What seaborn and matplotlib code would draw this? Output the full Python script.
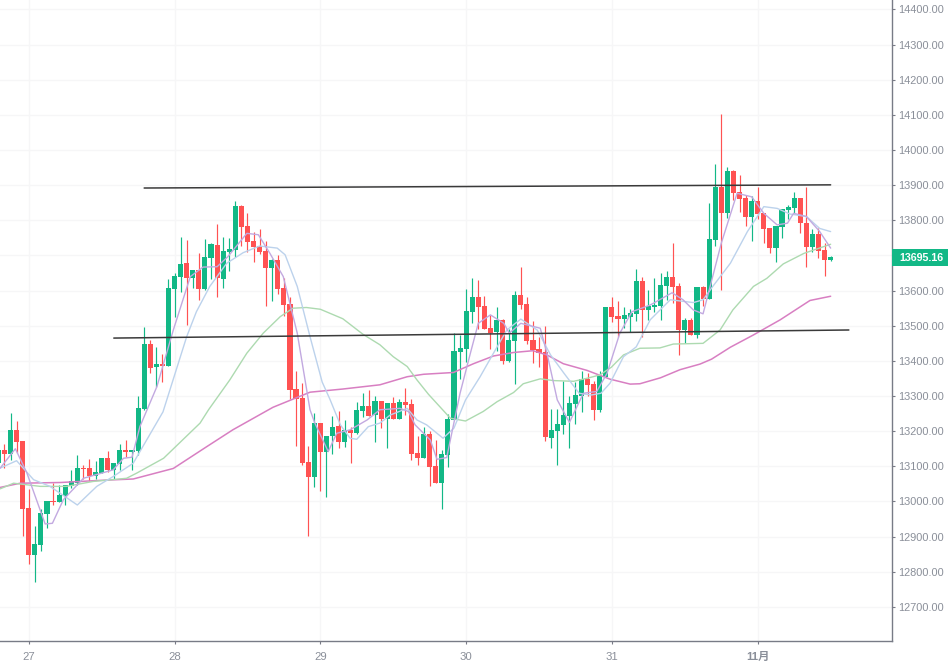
import matplotlib
matplotlib.use("Agg")
import matplotlib.pyplot as plt
from matplotlib.patches import Rectangle
from matplotlib.transforms import blended_transform_factory
import numpy as np
import pandas as pd
import seaborn as sns

opens = [13109,13147,13136,13204,13173,12982,12848,12877,12965,13002,12999,13016,13044,13053,13096,13096,13073,13081,13124,13090,13107,13147,13141,13144,
13264,13449,13383,13392,13386,13605,13639,13679,13636,13659,13605,13693,13730,13633,13710,13716,13841,13784,13741,13727,13713,13665,13687,13608,13562,13321,13295,13113,
13070,13224,13141,13187,13215,13170,13204,13195,13258,13272,13246,13286,13235,13281,13235,13283,13278,13138,13124,13192,13101,13053,13133,
13232,13426,13434,13539,13582,13557,13494,13483,13517,13400,13457,13588,13562,13460,13434,13426,13181,13201,13218,13244,13278,13300,13349,13335,13261,13355,13554,13528,13520,13525,
13534,13628,13545,13554,13557,13613,13639,13613,13488,13517,13474,13611,13576,13744,13895,13821,13941,13881,13864,13810,13855,13821,13778,13722,13781,13830,13835,13864,13793,13724,13761,13716,13687]
closes = [13147,13136,13204,13170,12979,12848,12880,12968,13002,12999,13019,13047,13059,13096,13093,13073,13084,13124,13090,13110,13147,13141,13147,13266,
13449,13380,13392,13386,13608,13642,13676,13636,13659,13605,13696,13733,13636,13713,13719,13841,13781,13739,13724,13710,13665,13687,13605,13559,13318,13292,13110,13070,
13224,13141,13187,13212,13170,13204,13195,13261,13272,13244,13286,13235,13281,13235,13283,13275,13136,13124,13192,13099,13053,13136,13235,
13429,13437,13542,13582,13554,13491,13480,13517,13400,13460,13588,13559,13457,13431,13423,13184,13204,13221,13246,13281,13303,13349,13332,13261,13357,13554,13525,13520,13531,13537,
13628,13545,13557,13559,13616,13639,13611,13488,13517,13474,13611,13576,13747,13895,13821,13941,13878,13861,13810,13855,13818,13776,13722,13784,13832,13838,13864,13793,13724,13761,13713,13687,13695.16]
highs = [13150,13164,13253,13229,13173,13036,12931,12978,13002,13052,13047,13047,13090,13133,13104,13121,13116,13124,13144,13110,13164,13175,13147,13300,
13497,13460,13440,13420,13633,13650,13753,13744,13659,13707,13747,13736,13790,13753,13750,13855,13844,13821,13767,13776,13741,13690,13702,13636,13582,13372,13337,13158,
13252,13224,13187,13244,13258,13232,13212,13283,13309,13318,13300,13286,13281,13298,13292,13323,13292,13187,13212,13201,13175,13147,13249,
13480,13474,13605,13636,13630,13585,13531,13554,13520,13491,13599,13667,13582,13514,13468,13500,13264,13264,13343,13300,13340,13372,13366,13343,13372,13554,13582,13571,13554,13548,
13662,13639,13602,13636,13650,13656,13736,13622,13522,13522,13611,13613,13849,13960,14103,13952,13943,13929,13872,13869,13895,13821,13778,13784,13832,13844,13881,13864,13895,13776,13778,13736,13699]
lows = [13105,13094,13118,13139,12902,12823,12771,12860,12925,12990,12999,12990,13039,13047,13064,13059,13064,13081,13084,13064,13090,13127,13090,13133,
13261,13366,13326,13340,13386,13525,13596,13503,13608,13574,13602,13633,13582,13608,13656,13696,13727,13710,13682,13704,13557,13571,13591,13528,13292,13158,13104,12902,
13042,13030,13013,13136,13153,13155,13110,13192,13241,13244,13170,13210,13153,13235,13235,13246,13118,13104,13124,13045,13053,12979,13099,
13232,13349,13397,13508,13491,13491,13434,13429,13392,13397,13335,13548,13448,13394,13383,13173,13153,13104,13192,13153,13221,13255,13300,13232,13255,13355,13511,13468,13494,13483,
13514,13468,13517,13540,13517,13574,13565,13417,13451,13474,13466,13557,13576,13727,13602,13807,13858,13824,13784,13741,13804,13736,13707,13682,13750,13804,13821,13764,13667,13710,13693,13642,13684]

purple_at = [-4.7,-2.2,-0.3,2.7,3.9,5.7,9,13.9,15.6,17,18.3,21.1,23.8,26.6,28.7,31,32.8,35.9,37.8,39.7,41.9,44.2,46.3,47.1,49.3,50.7,52.9,55.7,57.8,61.1,62.5,63.6,66.1,67.2,68.8,71,72.7,74,76,78.2,79.1,81,84.2,85.3,87,89,91.3,93.5,95.2,97.3,99.3,102.3,105.9,107.7,109.4,111,114,116.6,119,121,123.2,124.9,125.9,128,130.2,132]
purple = [13095,13150,13081,12936,12938,13005,13066,13090,13123,13126,13213,13327,13488,13640,13667,13668,13697,13763,13759,13706,13640,13479,13261,13223,13142,13194,13204,13232,13261,13265,13256,13218,13175,13120,13125,13308,13422,13507,13531,13507,13479,13507,13493,13422,13289,13225,13308,13313,13365,13479,13540,13559,13594,13574,13545,13534,13735,13877,13867,13820,13787,13792,13820,13811,13768,13721]

blue_at = [-4.7,-2,0.8,3.5,8,11.2,13.9,17.2,18.3,22.1,26,27.6,29.8,32.6,35.3,38,40.9,42.2,44.2,46.3,48.3,49.6,51.3,52.9,54,55.9,57.8,59.5,62.3,63.9,65.5,68.2,70,71.9,74.3,76.5,78.7,81,83.7,85.9,88.1,90.6,92.6,94.2,95.7,97.9,100,102.3,105.6,109.4,111,112.6,115.5,118.3,121,123.2,125.3,128,130.2,132]
blue = [13095,13116,13062,13043,12990,13043,13071,13109,13142,13255,13469,13540,13612,13678,13708,13727,13721,13702,13612,13469,13340,13290,13218,13180,13177,13213,13223,13246,13265,13232,13218,13180,13209,13289,13355,13422,13488,13519,13488,13417,13365,13308,13303,13308,13337,13412,13440,13517,13574,13566,13574,13612,13678,13768,13839,13834,13818,13811,13777,13768]

green_at = [-4.7,-2.5,1.9,6.2,10.6,16.1,17.8,22.2,28.2,29.6,33.1,35.9,38.6,41.4,43.5,45.7,48,51.7,55,57.8,60,62.3,63.9,65.8,69.4,71.9,74.8,77.1,79.8,81.4,84.2,86.4,89.7,92,94,95.9,97.9,100.6,103.9,106.1,111,113.8,115.9,119.3,121.5,124.2,127.6,132]
green = [13036,13052,13043,13043,13057,13066,13081,13123,13223,13261,13346,13422,13479,13526,13550,13552,13547,13520,13476,13446,13412,13384,13346,13305,13237,13229,13256,13284,13310,13335,13349,13344,13342,13351,13360,13382,13417,13436,13437,13448,13450,13488,13545,13612,13635,13676,13706,13732]

magenta_at = [-4.7,-1.4,5.2,11.7,17.2,23.8,29.3,33.6,40.2,46.3,51.7,57.8,62.3,65,69.9,73.2,76.5,79.8,83,85.3,88,91.9,95.7,99,100.6,104,107.2,110.5,112.4,115.5,119.3,123.7,128.6,132]
magenta = [13040,13052,13054,13060,13064,13094,13156,13204,13268,13311,13320,13332,13355,13362,13367,13392,13414,13424,13429,13417,13392,13373,13348,13334,13335,13352,13375,13391,13405,13439,13474,13517,13572,13584]

trend_top_at = [19, 132]
trend_top = [13892, 13901]
trend_low_at = [14, 135]
trend_low = [13465, 13488]

price_ticks = list(range(12700, 14500, 100))
hidden_tick = 13700
day_at = [0, 24, 48, 72, 96, 120]
day_labels = ["27", "28", "29", "30", "31", "11月"]
last_price = 13695.16

UP, DOWN = "#12B886", "#FF5252"
GREY = "#8A8F99"
AXIS = "#787B86"

sns.set_theme(style="white")
plt.rcParams["font.family"] = ["Liberation Sans", "Noto Sans CJK SC", "DejaVu Sans"]

W, H = 953, 670
fig = plt.figure(figsize=(W / 100, H / 100), dpi=100, facecolor="white")
ax = fig.add_axes([0, (H - 641) / H, 892 / W, 641 / H])
ax.set_xlim(-4.73, 142.1)
ax.set_ylim(12603, 14427)
ax.set_axisbelow(True)

idx = np.arange(len(opens)) - 5
o, c, h, l = map(np.array, (opens, closes, highs, lows))
colors = np.where(c >= o, UP, DOWN)

ax.vlines(idx, l, h, colors=colors, linewidth=0.85, zorder=2)
ax.bar(idx, np.abs(c - o), bottom=np.minimum(o, c), width=0.84, color=colors, linewidth=0, zorder=3)

for xs, ys, col, lw in [
    (magenta_at, magenta, "#D87FC2", 1.1),
    (green_at, green, "#ADDAB0", 1.0),
    (blue_at, blue, "#BCD2EC", 1.0),
    (purple_at, purple, "#C2A9E0", 1.0),
]:
    sns.lineplot(x=xs, y=ys, ax=ax, color=col, linewidth=lw, estimator=None, sort=False, zorder=4)

for xs, ys in [(trend_top_at, trend_top), (trend_low_at, trend_low)]:
    sns.lineplot(x=xs, y=ys, ax=ax, color="#3A3A3A", linewidth=1.1, estimator=None, sort=False, zorder=5)

ax.set_yticks(price_ticks)
ax.set_yticklabels(["" if p == hidden_tick else f"{p:.2f}" for p in price_ticks])
ax.set_xticks(day_at)
ax.set_xticklabels(day_labels)
ax.yaxis.tick_right()
ax.grid(True, color="#F6F6F7", linewidth=1.0)
ax.tick_params(axis="y", length=2.5, width=0.8, color=AXIS, labelcolor=GREY, labelsize=7.9, pad=2.2, right=True, left=False)
ax.tick_params(axis="x", length=2.5, width=0.8, color=AXIS, labelcolor=GREY, labelsize=8.2, pad=5.5, bottom=True)
ax.get_xticklabels()[-1].set_fontweight("bold")

for s in ("top", "left"):
    ax.spines[s].set_visible(False)
for s in ("right", "bottom"):
    ax.spines[s].set_color(AXIS)
    ax.spines[s].set_linewidth(1.0)

tr = blended_transform_factory(ax.transAxes, ax.transData)
ax.add_patch(Rectangle((1.0, last_price - 24), 56 / 892, 48, transform=tr, facecolor=UP,
                       edgecolor="none", clip_on=False, zorder=9))
ax.text(1.0 + 7 / 892, last_price, f"{last_price:.2f}", transform=tr, va="center_baseline", ha="left",
        fontsize=7.7, fontweight="bold", color="white", zorder=10)

fig.savefig("out.png", dpi=100)
